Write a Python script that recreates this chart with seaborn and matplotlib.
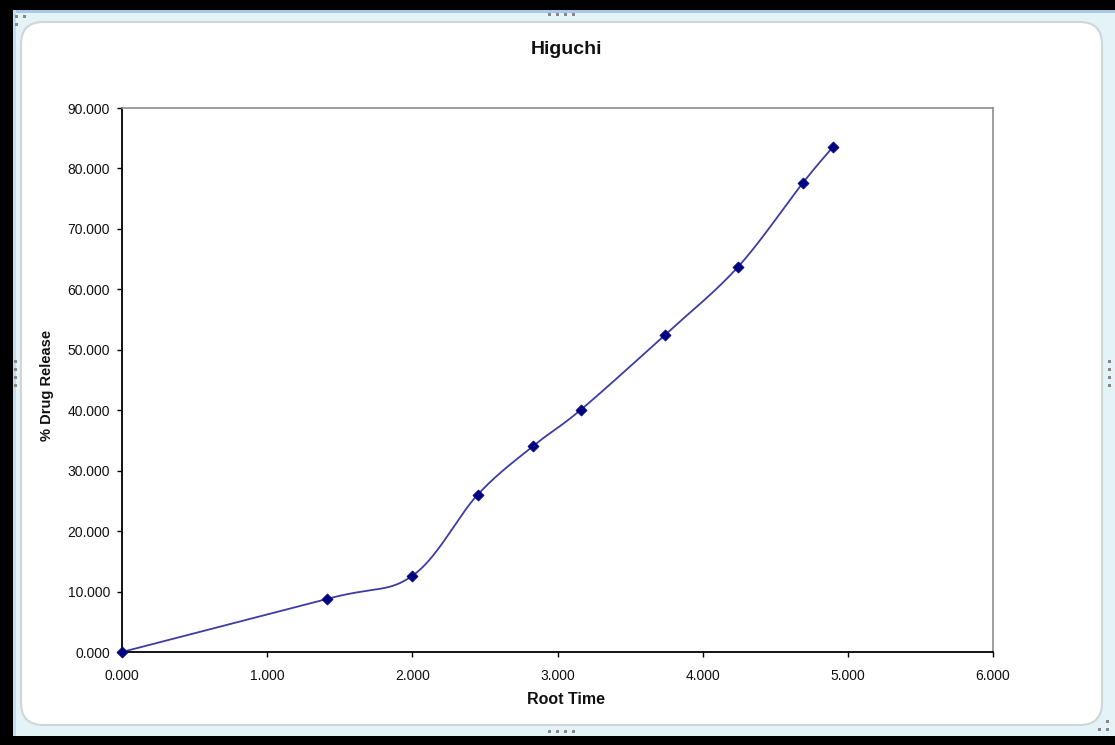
import numpy as np
import pandas as pd
import matplotlib
matplotlib.use("Agg")
import matplotlib.pyplot as plt
from matplotlib.patches import FancyBboxPatch, Rectangle
import seaborn as sns

# ---- data ----
root_time = [0.000, 1.414, 2.000, 2.449, 2.828, 3.162, 3.742, 4.243, 4.690, 4.899]
drug_release = [0.000, 8.8, 12.6, 26.0, 34.0, 40.1, 52.5, 63.7, 77.6, 83.6]
x_ticks = [0, 1, 2, 3, 4, 5, 6]
y_ticks = [0, 10, 20, 30, 40, 50, 60, 70, 80, 90]
title = "Higuchi"
x_label = "Root Time"
y_label = "% Drug Release"


def excel_smooth(xs, ys, n=40):
    """Catmull-Rom style Bezier smoothing (like Excel's smoothed line)."""
    P = np.column_stack([xs, ys]).astype(float)
    out = []
    m = len(P)
    for i in range(m - 1):
        p0 = P[i - 1] if i > 0 else P[i]
        p1 = P[i]
        p2 = P[i + 1]
        p3 = P[i + 2] if i + 2 < m else P[i + 1]
        c1 = p1 + (p2 - p0) / 6.0
        c2 = p2 - (p3 - p1) / 6.0
        t = np.linspace(0, 1, n, endpoint=(i == m - 2))[:, None]
        seg = ((1 - t) ** 3) * p1 + 3 * ((1 - t) ** 2) * t * c1 + 3 * (1 - t) * t ** 2 * c2 + t ** 3 * p2
        out.append(seg)
    arr = np.vstack(out)
    return arr[:, 0], arr[:, 1]


sns.set_style("white")
plt.rcParams['font.family'] = ['Liberation Sans', 'DejaVu Sans']
TXT = "#111111"

fig = plt.figure(figsize=(11.15, 7.45), dpi=100)
fig.patch.set_facecolor("black")

W, H = 1115, 745
def fx(px): return px / W
def fy(py): return 1 - py / H

# outer light area (window)
fig.patches.append(Rectangle((fx(13), fy(736)), fx(1115 - 13), (736 - 10) / H,
                             transform=fig.transFigure, facecolor="#e3f3f8",
                             edgecolor="none", zorder=-10))
fig.patches.append(Rectangle((fx(13), fy(13)), fx(1115 - 13), 3 / H,
                             transform=fig.transFigure, facecolor="#a9c7e6",
                             edgecolor="none", zorder=-10))
fig.patches.append(Rectangle((fx(13), fy(736)), 3 / W, (736 - 10) / H,
                             transform=fig.transFigure, facecolor="#c5dcef",
                             edgecolor="none", zorder=-10))
# rounded white chart area
fig.patches.append(FancyBboxPatch((fx(21), fy(725)), fx(1102 - 21), (725 - 22) / H,
                                  boxstyle="round,pad=0,rounding_size=0.02",
                                  transform=fig.transFigure, facecolor="white",
                                  edgecolor="#cfd6d6", linewidth=1.5, zorder=-9,
                                  mutation_aspect=W / H))
# little handle dots
dots = [(16, 17), (24, 17), (16, 25), (1107, 722), (1107, 730), (1099, 730)]
dots += [(15, 362 + 8 * k) for k in range(4)]
dots += [(1109, 362 + 8 * k) for k in range(4)]
dots += [(549 + 8 * k, 15) for k in range(4)]
dots += [(549 + 8 * k, 732) for k in range(4)]
for (px, py) in dots:
    fig.patches.append(Rectangle((fx(px - 1), fy(py + 1)), 3 / W, 3 / H, transform=fig.transFigure,
                                 facecolor="#888888", edgecolor="none", zorder=-8))

ax = fig.add_axes([fx(122), fy(652), fx(993 - 122), (652 - 108) / H])
ax.set_zorder(1)
ax.set_facecolor("white")

sx, sy = excel_smooth(root_time, drug_release)
curve = pd.DataFrame({"x": sx, "y": sy})
pts = pd.DataFrame({"x": root_time, "y": drug_release})

sns.lineplot(data=curve, x="x", y="y", ax=ax, color="#3c3ca2", linewidth=1.3,
             sort=False, estimator=None)
sns.scatterplot(data=pts, x="x", y="y", ax=ax, marker="D", s=32, color="#000080",
                edgecolor="#000080", linewidth=0.5, zorder=5, clip_on=False)

ax.set_xlim(0, 6)
ax.set_ylim(0, 90)
ax.set_xticks(x_ticks)
ax.set_yticks(y_ticks)
ax.set_xticklabels([f"{v:.3f}" for v in x_ticks], fontsize=10, color=TXT)
ax.set_yticklabels([f"{v:.3f}" for v in y_ticks], fontsize=10, color=TXT)
ax.tick_params(axis="both", direction="out", length=3.6, width=1, color="black",
               bottom=True, left=True)
ax.tick_params(axis="y", pad=5)
ax.tick_params(axis="x", pad=8.5)

for s in ["top", "right"]:
    ax.spines[s].set_color("#8c8c8c")
    ax.spines[s].set_linewidth(1.2)
for s in ["left", "bottom"]:
    ax.spines[s].set_color("black")
    ax.spines[s].set_linewidth(1.3)

ax.set_xlabel("")
ax.set_ylabel("")
fig.text(fx(566), fy(699), x_label, ha="center", va="center", fontsize=11.5,
         fontweight="bold", color=TXT)
fig.text(fx(47), fy(385), y_label, ha="center", va="center", rotation=90,
         fontsize=10.5, fontweight="bold", color=TXT)
fig.text(fx(566), fy(49), title, ha="center", va="center", fontsize=14,
         fontweight="bold", color=TXT)

fig.savefig("out.png", dpi=100, facecolor=fig.get_facecolor())
